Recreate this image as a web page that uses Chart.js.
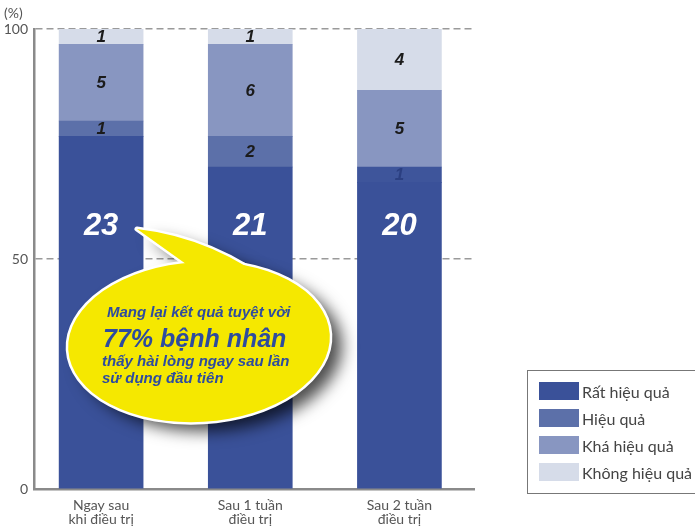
<!DOCTYPE html>
<html>
<head>
<meta charset="utf-8">
<script src="https://cdn.jsdelivr.net/npm/chart.js@4"></script>
<style>
html,body{margin:0;padding:0;background:#fff;overflow:hidden}
#wrap{position:relative;width:695px;height:528px}
#legend{position:absolute;left:527px;top:370px;width:190px;height:124px;border:1px solid #777;box-sizing:border-box;font-family:Lato,"Open Sans",sans-serif;font-size:16px;color:#444}
.item{position:absolute;left:11px;height:18px;display:flex;align-items:center;white-space:nowrap}
.sw{width:40px;height:18px;margin-right:3px;flex:none}
</style>
</head>
<body>
<div id="wrap"><canvas id="c" width="695" height="528"></canvas><div id="legend"></div></div>
<script>
// ---- data ----
const categories = [['Ngay sau', 'khi điều trị'], ['Sau 1 tuần', 'điều trị'], ['Sau 2 tuần', 'điều trị']];
const seriesNames = ['Rất hiệu quả', 'Hiệu quả', 'Khá hiệu quả', 'Không hiệu quả'];
const veryEffective = [23, 21, 20];
const effective = [1, 2, 1];
const fairlyEffective = [5, 6, 5];
const notEffective = [1, 1, 4];
const patients = 30;
const yTickValues = [0, 50, 100];
const bubbleLines = ['Mang lại kết quả tuyệt vời', '77% bệnh nhân', 'thấy hài lòng ngay sau lần', 'sử dụng đầu tiên'];

// ---- styles ----
const seriesColors = ['#3a5199', '#5c70a9', '#8896c1', '#d6dce9'];
const effectiveBarColors = ['#5c70a9', '#5c70a9', '#3e559b'];
const mainLabelLevel = 57;

const allSeries = [veryEffective, effective, fairlyEffective, notEffective];
const datasets = allSeries.map((arr, di) => ({
  label: seriesNames[di],
  data: arr.map((v, i) => ({x: i, y: v / patients * 100, count: v})),
  backgroundColor: di === 1 ? effectiveBarColors : seriesColors[di],
  borderWidth: 0,
  barThickness: 84
}));

const valueLabels = {
  id: 'valueLabels',
  afterDatasetsDraw(chart) {
    const ctx = chart.ctx;
    const ys = chart.scales.y;
    ctx.save();
    ctx.textAlign = 'center';
    ctx.textBaseline = 'middle';
    chart.data.datasets.forEach((ds, di) => {
      const meta = chart.getDatasetMeta(di);
      meta.data.forEach((el, i) => {
        const count = ds.data[i].count;
        let y;
        if (di === 0) {
          y = ys.getPixelForValue(mainLabelLevel);
          ctx.font = 'italic bold 31px "Liberation Sans", Arial, sans-serif';
          ctx.fillStyle = '#ffffff';
        } else {
          y = (el.y + el.base) / 2 + 1;
          ctx.font = 'italic bold 17px "Liberation Sans", Arial, sans-serif';
          ctx.fillStyle = (di === 1 && i === 2) ? 'rgba(40,60,125,0.85)' : '#1b1b1b';
        }
        ctx.fillText(String(count), el.x, y);
      });
    });
    ctx.restore();
  }
};

const decorations = {
  id: 'decorations',
  afterDraw(chart) {
    const ctx = chart.ctx;
    ctx.save();
    // unit label
    ctx.font = '14px Lato, sans-serif';
    ctx.fillStyle = '#555';
    ctx.textAlign = 'left';
    ctx.textBaseline = 'middle';
    ctx.fillText('(%)', 4, 13);

    // speech bubble
    const ell = () => { ctx.beginPath(); ctx.ellipse(199, 342, 131, 80, -0.06, 0, Math.PI * 2); };
    const wedge = () => {
      ctx.beginPath();
      ctx.moveTo(137, 229);
      ctx.quadraticCurveTo(215, 238, 280, 290);
      ctx.lineTo(200, 300);
      ctx.lineTo(186, 264);
      ctx.closePath();
    };
    ctx.save();
    ctx.shadowColor = 'rgba(0,0,0,0.7)';
    ctx.shadowBlur = 16;
    ctx.shadowOffsetX = 12;
    ctx.shadowOffsetY = 9;
    ctx.fillStyle = '#ffffff';
    ell(); ctx.fill();
    wedge(); ctx.fill();
    ctx.restore();
    ctx.strokeStyle = '#ffffff';
    ctx.lineWidth = 5;
    ctx.lineJoin = 'round';
    ell(); ctx.stroke();
    wedge(); ctx.stroke();
    ctx.fillStyle = '#f5e800';
    ell(); ctx.fill();
    wedge(); ctx.fill();

    ctx.fillStyle = '#2e4c9e';
    ctx.textAlign = 'left';
    ctx.textBaseline = 'alphabetic';
    ctx.font = 'italic bold 15px "Liberation Sans", Arial, sans-serif';
    ctx.fillText(bubbleLines[0], 107, 317);
    ctx.font = 'italic bold 25px "Liberation Sans", Arial, sans-serif';
    ctx.fillText(bubbleLines[1], 103, 347);
    ctx.font = 'italic bold 15px "Liberation Sans", Arial, sans-serif';
    ctx.fillText(bubbleLines[2], 102, 366);
    ctx.fillText(bubbleLines[3], 102, 383);
    ctx.restore();
  }
};

new Chart(document.getElementById('c'), {
  type: 'bar',
  data: {datasets},
  options: {
    responsive: false,
    animation: false,
    layout: {padding: {top: 29, right: 221, left: 0, bottom: 0}},
    plugins: {legend: {display: false}, tooltip: {enabled: false}},
    scales: {
      x: {
        type: 'linear',
        min: -0.45,
        max: 2.5,
        offset: false,
        stacked: true,
        grid: {display: false, drawTicks: false, offset: false},
        border: {display: true, color: '#8a8a8a', width: 2.5},
        afterBuildTicks: s => { s.ticks = categories.map((c, i) => ({value: i})); },
        afterFit: s => { s.height = 39; },
        ticks: {
          callback: v => categories[v],
          font: {family: 'Lato', size: 14, lineHeight: 1.0},
          color: '#555',
          padding: 9,
          maxRotation: 0,
          autoSkip: false
        }
      },
      y: {
        stacked: true,
        min: 0,
        max: 100,
        afterBuildTicks: s => { s.ticks = yTickValues.map(v => ({value: v})); },
        afterFit: s => { s.width = 34; },
        grid: {
          color: c => (c.tick && c.tick.value === 0) ? 'rgba(0,0,0,0)' : '#9a9a9a',
          lineWidth: 1.5,
          drawTicks: false
        },
        border: {display: true, color: '#8a8a8a', width: 2.5, dash: [7, 4]},
        ticks: {font: {family: 'Lato', size: 14}, color: '#555', padding: 6}
      }
    }
  },
  plugins: [valueLabels, decorations]
});

// legend
const leg = document.getElementById('legend');
seriesNames.forEach((n, i) => {
  const it = document.createElement('div');
  it.className = 'item';
  it.style.top = (11 + i * 27) + 'px';
  const sw = document.createElement('span');
  sw.className = 'sw';
  sw.style.background = seriesColors[i];
  const tx = document.createElement('span');
  tx.textContent = n;
  it.appendChild(sw); it.appendChild(tx);
  leg.appendChild(it);
});
</script>
</body>
</html>
